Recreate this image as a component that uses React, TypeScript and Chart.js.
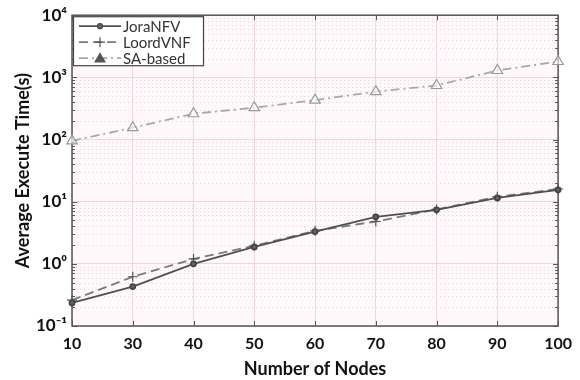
import React, { useEffect, useRef } from "react";
import { Chart, registerables } from "chart.js";

Chart.register(...registerables);

const categories = ["10", "30", "40", "50", "60", "70", "80", "90", "100"];
const joraNFV = [0.235, 0.43, 1.0, 1.87, 3.3, 5.7, 7.4, 11.5, 15.5];
const loordVNF = [0.26, 0.62, 1.2, 1.95, 3.4, 4.8, 7.5, 12, 16];
const saBased = [95, 155, 260, 325, 430, 590, 740, 1290, 1800];
const decadeExponents = [-1, 0, 1, 2, 3, 4];
const supMap: Record<string, string> = { "-": "⁻", "0": "⁰", "1": "¹", "2": "²", "3": "³", "4": "⁴" };
const sup = (e: number) => String(e).split("").map((c) => supMap[c]).join("");

const FONT = "Lato, 'Open Sans', sans-serif";

const framePlugin = {
  id: "frame",
  beforeDraw(chart: any) {
    const { ctx, chartArea: a } = chart;
    ctx.save();
    ctx.fillStyle = "#fef8fa";
    ctx.fillRect(a.left, a.top, a.right - a.left, a.bottom - a.top);
    ctx.restore();
  },
  beforeDatasetsDraw(chart: any) {
    const { ctx, chartArea: a, scales } = chart;
    const y = scales.y;
    const x = scales.x;
    ctx.save();
    ctx.lineWidth = 1;
    for (let e = -1; e < 4; e++) {
      for (let m = 2; m <= 9; m++) {
        const py = Math.round(y.getPixelForValue(m * Math.pow(10, e))) + 0.5;
        ctx.strokeStyle = "#e2d8dc";
        ctx.setLineDash([1, 3]);
        ctx.beginPath();
        ctx.moveTo(a.left, py);
        ctx.lineTo(a.right, py);
        ctx.stroke();
        ctx.setLineDash([]);
        ctx.strokeStyle = "#555";
        ctx.beginPath();
        ctx.moveTo(a.left, py);
        ctx.lineTo(a.left + 3, py);
        ctx.moveTo(a.right, py);
        ctx.lineTo(a.right - 3, py);
        ctx.stroke();
      }
    }
    ctx.strokeStyle = "#555";
    for (const e of decadeExponents) {
      const py = Math.round(y.getPixelForValue(Math.pow(10, e))) + 0.5;
      ctx.beginPath();
      ctx.moveTo(a.left, py);
      ctx.lineTo(a.left + 5, py);
      ctx.moveTo(a.right, py);
      ctx.lineTo(a.right - 5, py);
      ctx.stroke();
    }
    for (let i = 0; i < categories.length; i++) {
      const px = Math.round(x.getPixelForValue(i)) + 0.5;
      ctx.beginPath();
      ctx.moveTo(px, a.bottom);
      ctx.lineTo(px, a.bottom - 5);
      ctx.moveTo(px, a.top);
      ctx.lineTo(px, a.top + 5);
      ctx.stroke();
    }
    ctx.strokeStyle = "#555";
    ctx.lineWidth = 1.5;
    ctx.strokeRect(a.left, a.top, a.right - a.left, a.bottom - a.top);
    ctx.restore();
  },
  afterDatasetsDraw(chart: any) {
    const { ctx, chartArea: a } = chart;
    const bx = a.left + 1, by = a.top + 1, bw = 130, bh = 49;
    ctx.save();
    ctx.fillStyle = "#ffffff";
    ctx.fillRect(bx, by, bw, bh);
    ctx.strokeStyle = "#444";
    ctx.lineWidth = 1.2;
    ctx.strokeRect(bx + 0.5, by + 0.5, bw, bh);
    chart.data.datasets.forEach((ds: any, i: number) => {
      const cy = by + 10 + i * 16;
      const x0 = bx + 6, x1 = bx + 48;
      ctx.strokeStyle = ds.borderColor;
      ctx.lineWidth = ds.borderWidth;
      ctx.setLineDash(ds.borderDash || []);
      ctx.beginPath();
      ctx.moveTo(x0, cy);
      ctx.lineTo(x1, cy);
      ctx.stroke();
      ctx.setLineDash([]);
      const cx = (x0 + x1) / 2;
      ctx.fillStyle = ds.pointBackgroundColor;
      ctx.strokeStyle = ds.pointBorderColor;
      ctx.lineWidth = 1.2;
      const r = ds.pointRadius;
      ctx.beginPath();
      if (ds.pointStyle === "circle") {
        ctx.arc(cx, cy, r, 0, Math.PI * 2);
        ctx.fill();
        ctx.stroke();
      } else if (ds.pointStyle === "cross") {
        ctx.moveTo(cx - r, cy);
        ctx.lineTo(cx + r, cy);
        ctx.moveTo(cx, cy - r);
        ctx.lineTo(cx, cy + r);
        ctx.stroke();
      } else {
        ctx.fillStyle = "#555";
        ctx.moveTo(cx, cy - r);
        ctx.lineTo(cx + r, cy + r * 0.7);
        ctx.lineTo(cx - r, cy + r * 0.7);
        ctx.closePath();
        ctx.fill();
      }
      ctx.fillStyle = "#333";
      ctx.font = `15px ${FONT}`;
      ctx.textBaseline = "middle";
      ctx.textAlign = "left";
      ctx.fillText(ds.label, x1 + 2, cy + 1);
    });
    ctx.restore();
  },
};

export default function App() {
  const ref = useRef<HTMLCanvasElement>(null);
  useEffect(() => {
    if (!ref.current) return;
    const chart = new Chart(ref.current, {
      type: "line",
      data: {
        labels: categories,
        datasets: [
          {
            label: "JoraNFV",
            data: joraNFV,
            borderColor: "#505050",
            borderWidth: 1.8,
            pointStyle: "circle",
            pointRadius: 2.5,
            pointBackgroundColor: "#666",
            pointBorderColor: "#444",
            clip: false,
          },
          {
            label: "LoordVNF",
            data: loordVNF,
            borderColor: "#7a7a7a",
            borderWidth: 1.8,
            borderDash: [9, 5],
            pointStyle: "cross",
            pointRadius: 5,
            pointBackgroundColor: "#666",
            pointBorderColor: "#555",
            pointBorderWidth: 1.2,
            clip: false,
          },
          {
            label: "SA-based",
            data: saBased,
            borderColor: "#a8a8a8",
            borderWidth: 1.8,
            borderDash: [9, 4, 2, 4],
            pointStyle: "triangle",
            pointRadius: 6,
            pointBackgroundColor: "rgba(255,255,255,0.6)",
            pointBorderColor: "#999",
            pointBorderWidth: 1.2,
            clip: false,
          },
        ] as any,
      },
      options: {
        animation: false,
        responsive: false,
        maintainAspectRatio: false,
        layout: { padding: { top: 14, right: 18, left: 0, bottom: 0 } },
        plugins: { legend: { display: false }, tooltip: { enabled: false } },
        scales: {
          x: {
            type: "category",
            offset: false,
            grid: { color: "#f0d6df", drawTicks: false },
            border: { display: false },
            ticks: {
              color: "#111",
              font: { family: FONT, size: 16, weight: "bold" },
              padding: 8,
              maxRotation: 0,
              autoSkip: false,
            },
            title: {
              display: true,
              text: "Number of Nodes",
              color: "#111",
              font: { family: FONT, size: 18, weight: "bold" },
              padding: { top: 2, bottom: 0 },
            },
            afterFit: (s: any) => {
              s.height = 54;
            },
          },
          y: {
            type: "logarithmic",
            min: 0.1,
            max: 10000,
            grid: { color: "#f0d6df", drawTicks: false },
            border: { display: false },
            afterBuildTicks: (s: any) => {
              s.ticks = decadeExponents.map((e) => ({ value: Math.pow(10, e) }));
            },
            ticks: {
              color: "#111",
              font: { family: FONT, size: 17, weight: "bold" },
              padding: 5,
              callback: (v: any) => "10" + sup(Math.round(Math.log10(Number(v)))),
            },
            title: {
              display: true,
              text: "Average Execute Time(s)",
              color: "#111",
              font: { family: FONT, size: 18, weight: "bold" },
              padding: { top: 12, bottom: 4 },
            },
            afterFit: (s: any) => {
              s.width = 72;
            },
          },
        },
      },
      plugins: [framePlugin],
    } as any);
    return () => chart.destroy();
  }, []);
  return (
    <div style={{ position: "fixed", left: 0, top: 0, width: 580, height: 380, background: "#fff" }}>
      <canvas ref={ref} width={580} height={380} style={{ width: 580, height: 380 }} />
    </div>
  );
}
